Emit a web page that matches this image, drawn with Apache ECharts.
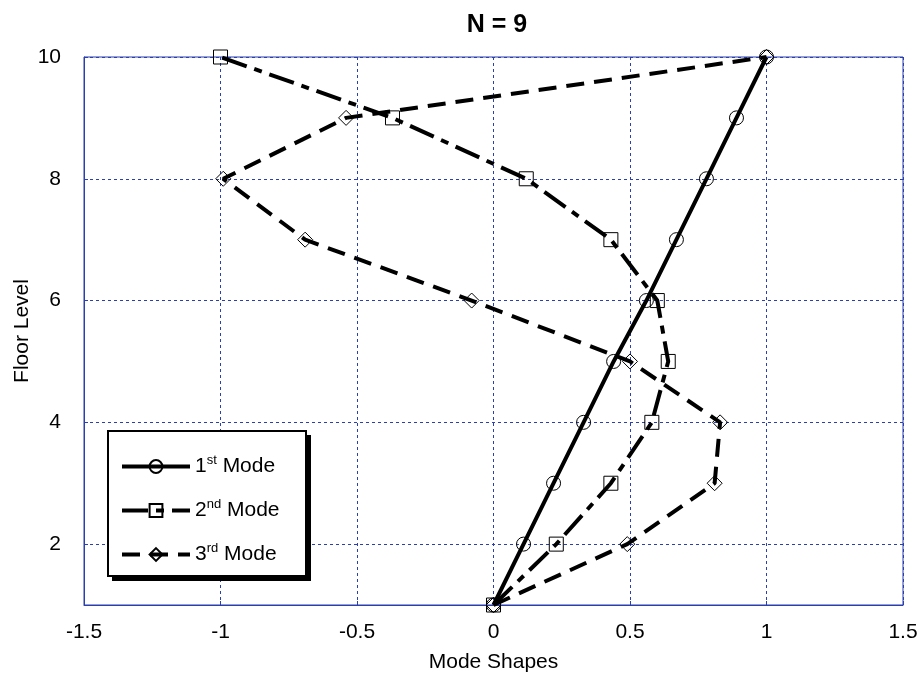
<!DOCTYPE html>
<html>
<head>
<meta charset="utf-8">
<script src="https://cdn.jsdelivr.net/npm/echarts@6/dist/echarts.min.js"></script>
<style>
  html, body { margin: 0; padding: 0; background: #fff; }
  #chart { width: 924px; height: 681px; }
</style>
</head>
<body>
<div id="chart"></div>
<script>
// floor levels 1..10
const floors = [1, 2, 3, 4, 5, 6, 7, 8, 9, 10]
const mode1 = [0, 0.11, 0.22, 0.33, 0.44, 0.56, 0.67, 0.78, 0.89, 1.0]
const mode2 = [0, 0.23, 0.43, 0.58, 0.64, 0.60, 0.43, 0.12, -0.37, -1.0]
const mode3 = [0, 0.49, 0.81, 0.83, 0.50, -0.08, -0.69, -0.99, -0.54, 1.0]
const yTicks = [2, 4, 6, 8, 10]

const FONT = 'Liberation Sans, Arial, sans-serif'
const GRID_BLUE = '#2b3fae'

const chart = echarts.init(document.getElementById('chart'), null, { renderer: 'canvas' })

const pairs = vals => vals.map((v, i) => [v, floors[i]])

const mkSeries = (name, vals, symbol, dash) => ({
  name,
  type: 'line',
  data: pairs(vals),
  symbol,
  symbolSize: symbol === 'diamond' ? 15 : 14,
  showAllSymbol: true,
  lineStyle: { color: '#000', width: 4, type: dash },
  itemStyle: { color: 'rgba(255,255,255,0)', borderColor: '#000', borderWidth: 1 },
  emphasis: { disabled: true },
  z: 2,
})

const rich = {
  n: { fontFamily: FONT, fontSize: 21, color: '#000' },
  s: { fontFamily: FONT, fontSize: 13, color: '#000', verticalAlign: 'top', padding: [0, 0, 12, 0] },
}
const legendText = { '1st Mode': ['1', 'st'], '2nd Mode': ['2', 'nd'], '3rd Mode': ['3', 'rd'] }

const option = {
  animation: false,
  title: {
    text: 'N = 9',
    left: 492, top: 8, textAlign: 'center',
    textStyle: { fontFamily: FONT, fontSize: 25, fontWeight: 'bold', color: '#000' },
  },
  grid: {
    left: 84, right: 21, top: 57, bottom: 76,
    outerBoundsMode: 'none', containLabel: false,
    show: true, borderColor: GRID_BLUE, borderWidth: 1,
  },
  // legend frame with hard drop shadow
  graphic: [
    { type: 'rect', left: 112, top: 435, z: 3, shape: { width: 199, height: 146 }, style: { fill: '#000' } },
    { type: 'rect', left: 107, top: 430, z: 3, shape: { width: 198, height: 145 }, style: { fill: '#fff', stroke: '#000', lineWidth: 2 } },
  ],
  legend: {
    orient: 'vertical',
    left: 107, top: 430,
    padding: [24, 10, 10, 13],
    itemGap: 21,
    itemWidth: 68, itemHeight: 16,
    z: 4,
    selectedMode: false,
    lineStyle: { width: 4 },
    data: ['1st Mode', '2nd Mode', '3rd Mode'],
    formatter: n => `{n|${legendText[n][0]}}{s|${legendText[n][1]}}{n| Mode}`,
    textStyle: { rich, padding: [0, 0, 0, 0] },
  },
  xAxis: {
    type: 'value', min: -1.5, max: 1.5, interval: 0.5,
    name: 'Mode Shapes', nameLocation: 'middle', nameGap: 47, nameMoveOverlap: false,
    nameTextStyle: { fontFamily: FONT, fontSize: 21, color: '#000' },
    axisLine: { show: true, onZero: false, lineStyle: { color: GRID_BLUE } },
    axisTick: { show: true, inside: true, length: 4, lineStyle: { color: GRID_BLUE } },
    axisLabel: { fontFamily: FONT, fontSize: 21, color: '#000', margin: 17 },
    splitLine: { show: true, lineStyle: { color: GRID_BLUE, type: [3, 3], width: 1 } },
  },
  yAxis: {
    type: 'value', min: 1, max: 10,
    name: 'Floor Level', nameLocation: 'middle', nameGap: 51, nameMoveOverlap: false,
    nameTextStyle: { fontFamily: FONT, fontSize: 21, color: '#000' },
    axisLine: { show: true, onZero: false, lineStyle: { color: GRID_BLUE } },
    axisTick: { show: true, inside: true, length: 4, customValues: yTicks, lineStyle: { color: GRID_BLUE } },
    axisLabel: { fontFamily: FONT, fontSize: 21, color: '#000', margin: 23, customValues: yTicks },
    splitLine: { show: true, lineStyle: { color: GRID_BLUE, type: [3, 3], width: 1 } },
  },
  series: [
    mkSeries('1st Mode', mode1, 'circle', 'solid'),
    mkSeries('2nd Mode', mode2, 'rect', [26, 8, 8, 8]),
    mkSeries('3rd Mode', mode3, 'diamond', [18, 10]),
  ],
}

chart.setOption(option)
</script>
</body>
</html>
